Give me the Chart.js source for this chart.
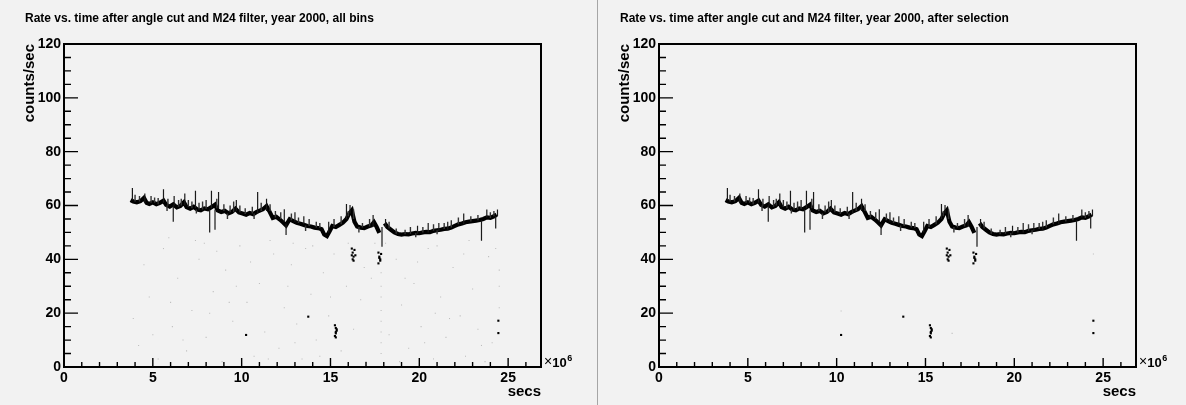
<!DOCTYPE html>
<html>
<head>
<meta charset="utf-8">
<script src="https://cdn.jsdelivr.net/npm/chart.js@4.4.1/dist/chart.umd.min.js"></script>
<style>
  html, body { margin: 0; padding: 0; background: #fff; }
  body { width: 1186px; height: 405px; position: relative; overflow: hidden; font-family: "Liberation Sans", Arial, sans-serif; }
  .pad { position: absolute; top: 0; height: 405px; background: #f2f2f2; }
  #padL { left: 0; width: 597px; }
  #padR { left: 598px; width: 588px; }
  #sep { position: absolute; left: 597px; top: 0; width: 1px; height: 405px; background: #a6a6a6; z-index: 2; }
  canvas { position: absolute; top: 0; }
  #left { left: 0; }
  #right { left: 595px; }
</style>
</head>
<body>
<div class="pad" id="padL"></div>
<div class="pad" id="padR"></div>
<canvas id="left" width="595" height="405"></canvas>
<canvas id="right" width="591" height="405"></canvas>
<div id="sep"></div>
<script>
// time in units of 10^6 s, rate in counts/sec
const titles = [
  "Rate vs. time after angle cut and M24 filter, year 2000, all bins",
  "Rate vs. time after angle cut and M24 filter, year 2000, after selection"
];
const xTickLabels = [0, 5, 10, 15, 20, 25];
const xMinorTicks = [1, 2, 3, 4, 6, 7, 8, 9, 11, 12, 13, 14, 16, 17, 18, 19, 21, 22, 23, 24, 26];
const yTickLabels = [0, 20, 40, 60, 80, 100, 120];
const yMinorTicks = [5, 10, 15, 25, 30, 35, 45, 50, 55, 65, 70, 75, 85, 90, 95, 105, 110, 115];

// main rate band
const bandX = [3.75, 3.9, 4.1, 4.3, 4.5, 4.65, 4.8, 5.0, 5.2, 5.4, 5.6, 5.75, 5.95, 6.15, 6.35, 6.55, 6.75, 6.9,
  7.1, 7.3, 7.5, 7.7, 7.9, 8.1, 8.3, 8.5, 8.65, 8.85, 9.05, 9.25, 9.45, 9.65, 9.85, 10.05, 10.25, 10.45, 10.65,
  10.85, 11.05, 11.2, 11.4, 11.55, 11.75, 11.95, 12.15, 12.35, 12.5, 12.7, 12.9, 13.1, 13.3, 13.5, 13.7, 13.9,
  14.1, 14.3, 14.5, 14.65, 14.8, 14.95, 15.1, 15.3, 15.5, 15.7, 15.9, 16.05, 16.2, 16.35, 16.5, 16.7, 16.9, 17.1,
  17.3, 17.45, 17.6, 17.75, 17.9, 18.05, 18.2, 18.4, 18.6, 18.8, 19.0, 19.2, 19.4, 19.6, 19.8, 20.0, 20.2, 20.4,
  20.6, 20.8, 21.0, 21.2, 21.4, 21.6, 21.8, 22.0, 22.2, 22.4, 22.6, 22.8, 23.0, 23.2, 23.4, 23.6, 23.8, 24.0,
  24.2, 24.35];
const bandY = [62.0, 61.5, 61.2, 61.6, 62.8, 61.0, 60.6, 61.2, 60.5, 61.0, 61.8, 60.2, 59.6, 60.4, 59.3, 59.8, 61.2, 59.4,
  58.8, 59.5, 58.5, 58.2, 58.9, 58.6, 59.4, 60.3, 58.2, 57.6, 58.0, 57.1, 57.6, 58.8, 57.4, 57.0, 56.6, 57.2, 56.8,
  57.6, 58.2, 58.6, 59.8, 58.0, 55.4, 55.8, 54.8, 53.6, 52.6, 54.9, 54.2, 53.6, 53.2, 52.8, 52.4, 52.2,
  51.8, 51.6, 51.2, 49.2, 48.6, 50.4, 52.4, 52.0, 52.8, 53.6, 55.0, 57.0, 58.2, 54.0, 52.2, 51.8, 51.6, 52.2,
  52.6, 53.8, 52.0, 49.8, null, 53.4, 52.0, 51.0, 50.0, 49.4, 49.2, 49.4, 49.3, 49.6, 49.8, 49.7, 50.0, 50.2,
  50.1, 50.6, 50.8, 51.0, 51.3, 51.4, 51.8, 52.4, 53.0, 53.3, 53.8, 54.0, 54.2, 54.4, 54.6, 55.0, 55.6, 55.4,
  56.0, 56.6];

// excursions off the band (long ones)
const spikeX =  [3.85, 4.55, 5.6, 6.15, 6.2, 6.8, 7.4, 8.2, 8.3, 8.5, 8.7, 9.7, 10.9, 11.4, 12.4, 12.5, 13.0, 13.5,
  14.9, 15.9, 16.1, 17.4, 17.9, 18.1, 19.9, 20.5, 21.1, 21.6, 22.5, 23.5, 23.8, 24.3, 24.4];
const spikeLo = [62, 61, 61, 60, 60, 60, 59, 58.5, 59, 58.5, 59, 58, 57, 58, 54, 53, 54, 53,
  50, 55, 57, 52, 52, 52, 49.5, 50, 50.5, 51, 53, 54.5, 55.5, 56, 56];
const spikeHi = [66.5, 64.5, 66, 54, 63.5, 64.5, 65.5, 50, 65.5, 51, 65, 62, 65, 62.5, 58.6, 49, 57.5, 56,
  54, 60.6, 60.2, 56.5, 44.7, 55, 52.5, 53.5, 53.5, 54, 57, 46.9, 58.5, 51.5, 58.5];

// short fuzz around the band
const fuzzX =  [4.0, 4.25, 4.9, 5.1, 5.3, 5.85, 6.45, 6.6, 7.0, 7.2, 7.6, 7.8, 8.0, 8.6, 9.0, 9.35, 9.55, 9.9,
  10.2, 10.6, 11.1, 11.6, 11.9, 12.2, 12.8, 13.2, 13.8, 14.2, 14.4, 15.2, 15.6, 16.0, 16.3, 16.8, 17.2, 18.3,
  18.7, 19.2, 19.5, 20.2, 20.8, 21.4, 21.8, 22.2, 22.9, 23.3, 24.0, 24.2,
  5.8, 7.45, 9.2, 10.7, 13.6, 16.6, 19.8, 21.0];
const fuzzLo = [61.5, 61.5, 61, 61, 60.5, 60, 59.5, 60, 59.5, 59, 58.5, 58.5, 58.8, 59, 58, 57.5, 57.5, 57.5,
  56.8, 57, 58, 58, 55.5, 55, 54.5, 53.5, 52.4, 51.8, 51.6, 52, 53, 56, 55, 51.8, 52.2, 51.5,
  49.5, 49.3, 49.5, 50, 50.6, 51.3, 51.8, 53, 54.1, 54.5, 55.4, 56,
  60, 58.5, 57, 57, 52.6, 52, 49.8, 50.8];
const fuzzHi = [64, 63.5, 63.5, 63, 62.8, 62.5, 62, 62.5, 62, 61.5, 61, 61.5, 62, 62.5, 60.5, 60, 61.5, 60,
  59, 59.5, 61, 60.5, 58, 57.5, 57, 55.5, 55, 54, 53.5, 55, 56, 58, 58.5, 53.5, 55, 54,
  51.5, 51, 52, 52, 53, 53.5, 54.5, 55.5, 56, 56.5, 57.5, 58,
  58, 57, 55, 55, 50.5, 50, 48.2, 49.3];

// isolated clusters below the band
const clusterX = [16.2, 16.25, 16.3, 16.35, 16.25, 16.4, 16.3, 16.2, 17.7, 17.75, 17.8, 17.7, 17.75, 17.85, 17.8,
  15.25, 15.3, 15.35, 15.3, 15.25, 15.35, 15.3, 15.3, 13.75, 10.25, 24.45, 24.45];
const clusterY = [44, 42.5, 41, 43.5, 40, 41.5, 39.5, 41.5, 42.5, 41, 39.5, 38.5, 40.5, 42, 40,
  15.5, 14.5, 13.5, 12.5, 11.5, 14, 11, 13, 18.7, 11.9, 17.2, 12.6];

// faint low-count bins, all-bins plot
const faintX = [4.2, 4.8, 5.3, 5.6, 6.1, 6.4, 6.9, 7.2, 7.6, 8.0, 8.4, 8.9, 9.1, 9.5, 9.9, 10.3, 10.7, 11.0, 11.3,
  11.8, 12.1, 12.4, 12.8, 13.1, 13.4, 13.9, 14.2, 14.6, 14.9, 15.6, 15.9, 16.3, 16.7, 17.0, 17.3, 17.85, 17.85,
  17.85, 17.85, 17.85, 17.85, 17.85, 17.85, 18.3, 18.7, 19.0, 19.4, 19.7, 20.1, 20.5, 20.8, 21.2, 21.5, 21.9,
  22.3, 22.6, 23.0, 23.3, 23.7, 23.9, 24.1, 24.5, 24.5, 24.5, 3.9, 7.9, 12.9, 15.2, 18.9, 22.0, 10.0, 5.0, 20.9, 16.0,
  4.5, 5.9, 6.7, 7.4, 8.6, 9.3, 10.5, 11.6, 12.6, 13.6, 14.4, 15.0, 16.9, 18.1, 19.2, 20.3, 21.0, 21.7, 22.8, 23.5,
  24.3, 8.2, 11.5, 14.0, 19.9, 6.0, 9.7, 13.0, 17.5, 22.5];
const faintY = [8, 26, 3, 44, 15, 33, 6, 21, 40, 11, 28, 2, 36, 17, 45, 24, 4, 31, 13,
  42, 7, 22, 38, 16, 3, 27, 10, 35, 19, 6, 30, 14, 25, 2, 33, 5, 9,
  13, 17, 21, 26, 30, 35, 12, 40, 23, 7, 31, 15, 44, 3, 26, 11, 37,
  19, 4, 29, 14, 2, 41, 9, 22, 30, 36, 18, 46, 46, 42, 2, 1.5, 1.5, 12, 20, 46,
  38, 48, 10, 47, 43, 24, 39, 47, 30, 44, 4, 26, 37, 46, 33, 9, 45, 18, 47, 8,
  44, 20, 3, 45, 39, 24, 30, 9, 46, 42];
// faint bins that survive the selection
const faintSelX = [10.25, 16.5, 24.45];
const faintSelY = [20.8, 12.5, 42];

const FONT = '"Liberation Sans", Arial, Helvetica, sans-serif';
Chart.defaults.color = '#000';
Chart.defaults.font.family = FONT;

function pts(xs, ys) {
  return xs.map((x, i) => ({ x: x, y: ys[i] }));
}

function segments(xs, lo, hi) {
  const out = [];
  xs.forEach((x, i) => {
    out.push({ x: x, y: lo[i] }, { x: x, y: hi[i] }, { x: x, y: null });
  });
  return out;
}

const rootFrame = {
  id: 'rootFrame',
  afterDraw(chart) {
    const { ctx, chartArea: a, scales: { x, y } } = chart;
    ctx.save();
    ctx.strokeStyle = '#000';
    ctx.lineWidth = 1.4;
    ctx.beginPath();
    yTickLabels.forEach(v => {
      const p = y.getPixelForValue(v);
      ctx.moveTo(a.left, p); ctx.lineTo(a.left + 14, p);
    });
    yMinorTicks.forEach(v => {
      const p = y.getPixelForValue(v);
      ctx.moveTo(a.left, p); ctx.lineTo(a.left + 7, p);
    });
    xTickLabels.forEach(v => {
      const p = x.getPixelForValue(v);
      ctx.moveTo(p, a.bottom); ctx.lineTo(p, a.bottom - 9);
    });
    xMinorTicks.forEach(v => {
      const p = x.getPixelForValue(v);
      ctx.moveTo(p, a.bottom); ctx.lineTo(p, a.bottom - 5);
    });
    ctx.stroke();

    ctx.lineWidth = 2;
    ctx.strokeRect(a.left, a.top, a.right - a.left, a.bottom - a.top);

    // title
    ctx.fillStyle = '#000';
    ctx.textBaseline = 'alphabetic';
    ctx.textAlign = 'left';
    ctx.font = 'bold 12px ' + FONT;
    ctx.fillText(chart.options.rootTitle, 25, 21.5);

    // x10^6 exponent
    let px = a.right + 3;
    ctx.font = '14px ' + FONT;
    ctx.fillText('\u00d7', px, a.bottom - 1);
    px += ctx.measureText('\u00d7').width;
    ctx.font = 'bold 13px ' + FONT;
    ctx.fillText('10', px, a.bottom);
    px += ctx.measureText('10').width + 0.5;
    ctx.font = 'bold 9px ' + FONT;
    ctx.fillText('6', px, a.bottom - 6);
    ctx.restore();
  }
};

function makeChart(id, title, faint) {
  const canvas = document.getElementById(id);
  const datasets = [
    { data: pts(faint[0], faint[1]), pointStyle: 'rect', pointRadius: 0.75, backgroundColor: '#bdbdbd', borderWidth: 0 },
    { data: segments(fuzzX, fuzzLo, fuzzHi), showLine: true, spanGaps: false, borderColor: '#333', borderWidth: 1.4, pointRadius: 0 },
    { data: segments(spikeX, spikeLo, spikeHi), showLine: true, spanGaps: false, borderColor: '#1a1a1a', borderWidth: 1.2, pointRadius: 0 },
    { data: pts(bandX, bandY), showLine: true, spanGaps: false, borderColor: '#000', borderWidth: 4.2, pointRadius: 0, tension: 0 },
    { data: pts(clusterX, clusterY), pointStyle: 'rect', pointRadius: 1.5, backgroundColor: '#000', borderWidth: 0 }
  ];
  return new Chart(canvas, {
    type: 'scatter',
    data: { datasets },
    options: {
      rootTitle: title,
      responsive: false,
      animation: false,
      devicePixelRatio: 1,
      events: [],
      layout: { padding: { top: 44, left: 0, bottom: 0, right: canvas.width - 541 } },
      plugins: { legend: { display: false }, tooltip: { enabled: false } },
      scales: {
        x: {
          type: 'linear', min: 0, max: 26.85,
          afterFit: s => { s.height = 38; },
          afterBuildTicks: s => { s.ticks = xTickLabels.map(v => ({ value: v })); },
          grid: { display: false, drawTicks: false },
          border: { display: false },
          ticks: { padding: 3, maxRotation: 0, font: { size: 14, weight: 'bold' } },
          title: { display: true, text: 'secs', align: 'end', padding: { top: 0, bottom: 4 }, font: { size: 15, weight: 'bold' } }
        },
        y: {
          type: 'linear', min: 0, max: 120,
          afterFit: s => { s.width = 64; },
          afterBuildTicks: s => { s.ticks = yTickLabels.map(v => ({ value: v })); },
          grid: { display: false, drawTicks: false },
          border: { display: false },
          ticks: { padding: 3, font: { size: 14, weight: 'bold' } },
          title: { display: true, text: 'counts/sec', align: 'end', padding: { top: 21, bottom: 0 }, font: { size: 15, weight: 'bold' } }
        }
      }
    },
    plugins: [rootFrame]
  });
}

makeChart('left', titles[0], [faintX, faintY]);
makeChart('right', titles[1], [faintSelX, faintSelY]);
</script>
</body>
</html>
